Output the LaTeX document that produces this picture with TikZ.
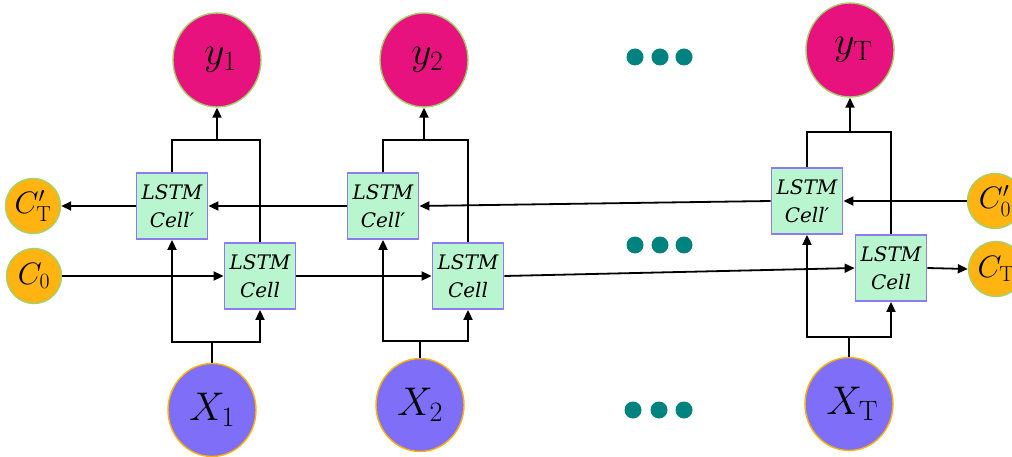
\RequirePackage{fix-cm}
\documentclass[tikz,border=0pt]{standalone}
\usepackage{fontspec}
\newfontfamily\cellff{DejaVu Serif}
\usetikzlibrary{arrows.meta,shapes.geometric}
\definecolor{ymag}{HTML}{E8127F}
\definecolor{xpur}{HTML}{7F6EF8}
\definecolor{corg}{HTML}{FFB412}
\definecolor{cellfill}{HTML}{B9F6CF}
\definecolor{cellbord}{HTML}{8C7CF0}
\definecolor{dotteal}{HTML}{00827F}
\definecolor{lgreen}{HTML}{A3D16B}
\definecolor{xbord}{HTML}{FFB400}
\newcommand{\cellfont}{\cellff\itshape\fontsize{20}{28}\selectfont}
\tikzset{
  cellbox/.style={draw=cellbord, line width=1.8pt, fill=cellfill, minimum width=71pt, minimum height=66pt, inner sep=0pt, align=center, font=\cellfont},
  ynode/.style={ellipse, fill=ymag, draw=lgreen, line width=1.4pt, minimum width=88pt, minimum height=94pt, inner sep=0pt, font=\fontsize{40}{44}\selectfont},
  xnode/.style={ellipse, fill=xpur, draw=xbord, line width=1.4pt, minimum width=88pt, minimum height=93pt, inner sep=0pt, font=\fontsize{40}{44}\selectfont},
  cnode/.style={circle, fill=corg, draw=lgreen, line width=1.4pt, minimum size=55pt, inner sep=0pt, font=\fontsize{31}{34}\selectfont},
  dotnode/.style={circle, fill=dotteal, minimum size=17pt, inner sep=0pt},
  wire/.style={draw=black, line width=1.8pt},
  arr/.style={wire, -{Triangle[length=10pt,width=9pt]}}
}
\begin{document}
\begin{tikzpicture}[x=1pt,y=-1pt]
\useasboundingbox (0,0) rectangle (1012,457);
\clip (0,0) rectangle (1012,457);
% outputs
\node[ynode] (y1) at (217,60) {\,$y_1$};
\node[ynode] (y2) at (424,60) {\,$y_2$};
\node[ynode] (yT) at (850,50) {\,$y_{\mathrm{T}}$};
% inputs
\node[xnode] (X1) at (212,410) {$X_1$};
\node[xnode] (X2) at (420,405) {$X_2$};
\node[xnode] (XT) at (849,404) {\,$X_{\mathrm{T}}$};
% cells
\node[cellbox] (cp1) at (172,206) {LSTM\\Cell′};
\node[cellbox] (c1) at (260,276) {LSTM\\Cell};
\node[cellbox] (cp2) at (383,206) {LSTM\\Cell′};
\node[cellbox] (c2) at (468,276) {LSTM\\Cell};
\node[cellbox] (cpT) at (807,201) {LSTM\\Cell′};
\node[cellbox] (cT) at (891,268) {LSTM\\Cell};
% states
\node[cnode] (cpTout) at (33,206) {$C'_{\mathrm{T}}$};
\node[cnode] (c0in) at (34,276) {$C_0$};
\node[cnode] (cp0in) at (995,201) {$C'_0$};
\node[cnode] (cTout) at (996,269) {$C_{\mathrm{T}}$};
% dots
\node[dotnode] (d1) at (635,57) {};
\node[dotnode] (d2) at (660,57) {};
\node[dotnode] (d3) at (684,57) {};
\node[dotnode] (d4) at (635,245) {};
\node[dotnode] (d5) at (660,245) {};
\node[dotnode] (d6) at (684,245) {};
\node[dotnode] (d7) at (633,410) {};
\node[dotnode] (d8) at (659,410) {};
\node[dotnode] (d9) at (684,410) {};
% junctions
\coordinate (top1) at (217,140);
\coordinate (top2) at (424,140);
\coordinate (topT) at (850,132);
\coordinate (bot1) at (212,342);
\coordinate (bot2) at (420,341);
\coordinate (botT) at (849,337);
% top merges
\draw[wire] (cp1.north) |- (top1) -| (c1.north);
\draw[arr] (top1) -- (y1.south);
\draw[wire] (cp2.north) |- (top2) -| (c2.north);
\draw[arr] (top2) -- (y2.south);
\draw[wire] (cpT.north) |- (topT) -| (cT.north);
\draw[arr] (topT) -- (yT.south);
% bottom splits
\draw[wire] (X1.north) -- (bot1);
\draw[arr] (bot1) -| (cp1.south);
\draw[arr] (bot1) -| (c1.south);
\draw[wire] (X2.north) -- (bot2);
\draw[arr] (bot2) -| (cp2.south);
\draw[arr] (bot2) -| (c2.south);
\draw[wire] (XT.north) -- (botT);
\draw[arr] (botT) -| (cpT.south);
\draw[arr] (botT) -| (cT.south);
% forward chain
\draw[arr] (c0in.east) -- (c1.west);
\draw[arr] (c1.east) -- (c2.west);
\draw[arr] (c2.east) -- (cT.west);
\draw[arr] (cT.east) -- (cTout.west);
% backward chain
\draw[arr] (cp0in.west) -- (cpT.east);
\draw[arr] (cpT.west) -- (cp2.east);
\draw[arr] (cp2.west) -- (cp1.east);
\draw[arr] (cp1.west) -- (cpTout.east);
\end{tikzpicture}
\end{document}
